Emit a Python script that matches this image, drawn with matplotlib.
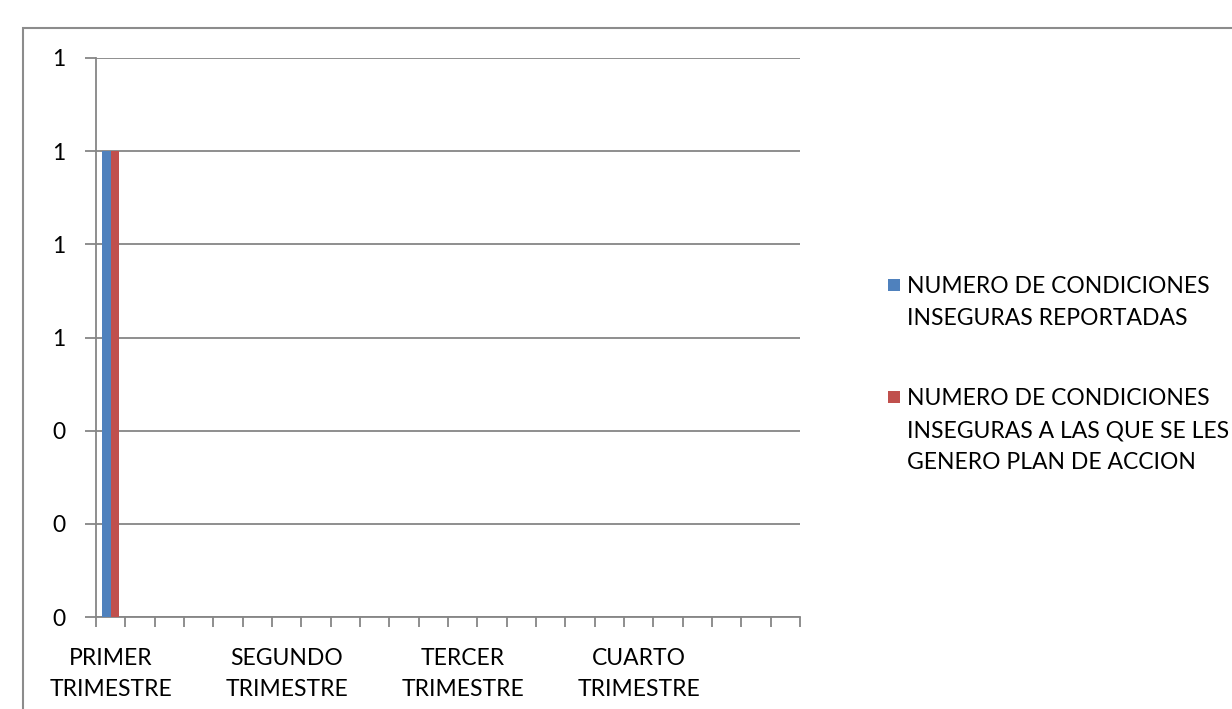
import matplotlib
matplotlib.use("Agg")
import matplotlib.pyplot as plt
from matplotlib.patches import Rectangle
from matplotlib.ticker import FormatStrFormatter, FixedLocator, NullFormatter
import numpy as np

# ---- data ----
categories = [""] * 24
categories[0] = "PRIMER\nTRIMESTRE"
categories[6] = "SEGUNDO\nTRIMESTRE"
categories[12] = "TERCER\nTRIMESTRE"
categories[18] = "CUARTO\nTRIMESTRE"
series_names = [
    "NUMERO DE CONDICIONES\nINSEGURAS REPORTADAS",
    "NUMERO DE CONDICIONES\nINSEGURAS A LAS QUE SE LES\nGENERO PLAN DE ACCION",
]
reportadas = [1] + [0] * 23
con_plan = [1] + [0] * 23
y_ticks = [0, 0.2, 0.4, 0.6, 0.8, 1.0, 1.2]

colors = ["#4F81BD", "#C0504D"]
grid_col = "#868686"
FONT = "Lato"
FS = 16.5
LS = 1.65

W, H = 1232, 709
fig = plt.figure(figsize=(W / 100, H / 100), dpi=100)
fig.patch.set_facecolor("white")

# outer chart frame
fig.patches.append(Rectangle((23 / W, -0.05), 1.2, (H - 28) / H + 0.05,
                             transform=fig.transFigure, fill=False,
                             edgecolor="#8C8C8C", linewidth=1.5))

ax = fig.add_axes([96 / W, (H - 617) / H, 704 / W, (617 - 58) / H])
n = len(categories)
x = np.arange(n)
bw = 1 / 3.5
ax.bar(x - bw / 2, reportadas, width=bw, color=colors[0], zorder=3)
ax.bar(x + bw / 2, con_plan, width=bw, color=colors[1], zorder=3)

ax.set_xlim(-0.5, n - 0.5)
ax.set_ylim(y_ticks[0], y_ticks[-1])
ax.set_yticks(y_ticks)
ax.yaxis.set_major_formatter(FormatStrFormatter("%.0f"))
ax.yaxis.grid(True, color=grid_col, linewidth=1.3, zorder=0)
ax.set_axisbelow(True)

ax.set_xticks(x)
ax.set_xticklabels(categories, fontfamily=FONT, fontsize=FS, linespacing=1.6)
ax.xaxis.set_minor_locator(FixedLocator(np.arange(n + 1) - 0.5))
ax.xaxis.set_minor_formatter(NullFormatter())
ax.tick_params(axis="x", which="major", length=0, pad=22)
ax.tick_params(axis="x", which="minor", length=7, width=1.3, color=grid_col, direction="out")
ax.tick_params(axis="y", length=8, width=1.3, color=grid_col, pad=14, labelsize=FS)
for lab in ax.get_yticklabels():
    lab.set_fontfamily(FONT)

for s in ["top", "right"]:
    ax.spines[s].set_visible(False)
for s in ["left", "bottom"]:
    ax.spines[s].set_color(grid_col)
    ax.spines[s].set_linewidth(1.3)

# legend (Excel style: marker aligned with first text line)
leg_y = [285, 397]
for name, col, yy in zip(series_names, colors, leg_y):
    fig.patches.append(Rectangle((888 / W, (H - yy - 6) / H), 12 / W, 12 / H,
                                 transform=fig.transFigure, facecolor=col,
                                 edgecolor="none"))
    fig.text(907 / W, (H - yy + 9) / H, name, fontfamily=FONT, fontsize=FS,
             va="top", ha="left", linespacing=LS)

fig.savefig("out.png", dpi=100)
